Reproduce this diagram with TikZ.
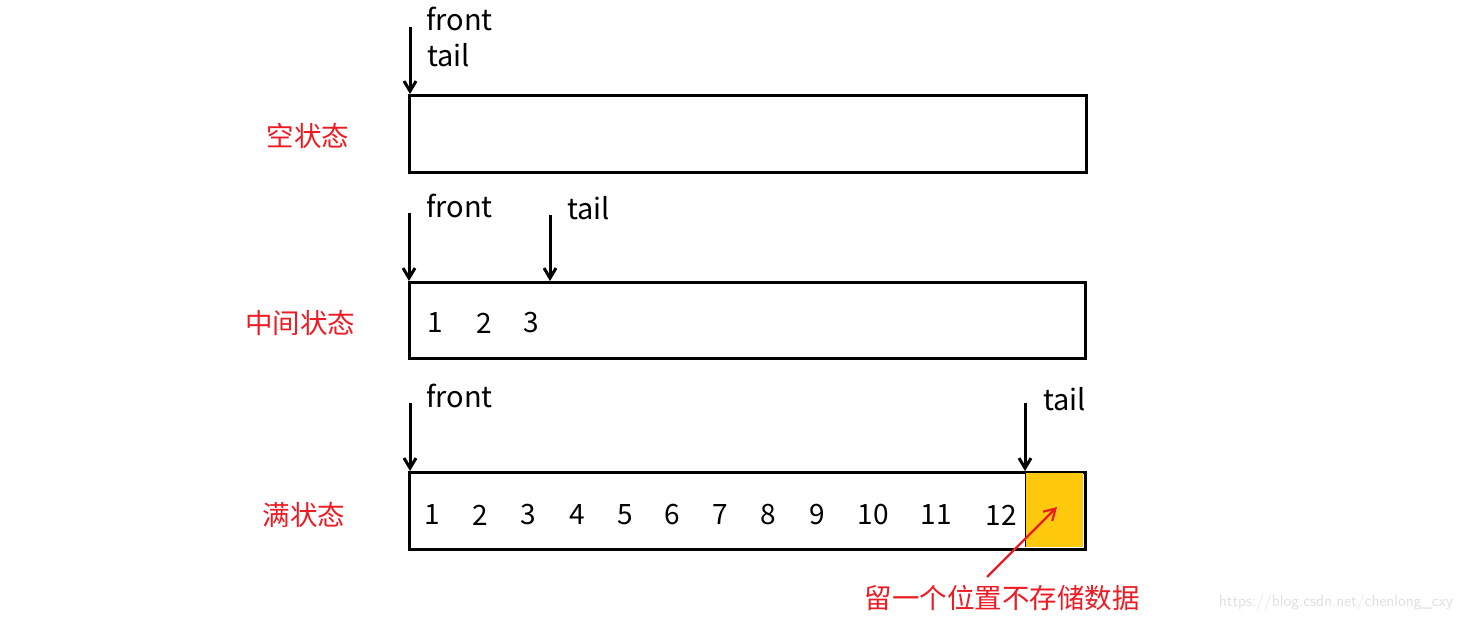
\documentclass[tikz,border=0pt]{standalone}
\usepackage{fontspec}
\setmainfont{Noto Sans CJK SC}
\usetikzlibrary{arrows.meta}
\definecolor{labelred}{RGB}{237,28,36}
\definecolor{slotyellow}{RGB}{255,201,14}
\tikzset{
	queue/.style={draw=black,line width=3pt},
	pointer/.style={-{Straight Barb[length=10pt,width=12pt]},line width=3pt},
	ptext/.style={anchor=west,inner sep=0pt,font=\fontsize{29}{32}\selectfont},
	num/.style={inner sep=0pt,font=\fontsize{28}{32}\selectfont},
	state/.style={text=labelred,inner sep=0pt,font=\fontsize{27.5}{32}\selectfont},
}
\begin{document}
\begin{tikzpicture}[x=1pt,y=-1pt,font=\fontsize{26}{30}\selectfont]
	\useasboundingbox (0,0) rectangle (1467,620);
	% empty
	\node[queue,minimum width=677pt,minimum height=77pt,anchor=north west] (Q1) at (408,94) {};
	\coordinate (F1) at (410,27);
	\draw[pointer] (F1) to (F1 |- Q1.north);
	\node[ptext] (f1) at (426,19) {front};
	\node[ptext] (t1) at (427,55) {tail};
	\node[state] (s1) at (308,136) {空状态};
	% middle
	\node[queue,minimum width=676pt,minimum height=76pt,anchor=north west] (Q2) at (408,281) {};
	\coordinate (F2) at (409,213);
	\coordinate (T2) at (550,215);
	\draw[pointer] (F2) to (F2 |- Q2.north);
	\draw[pointer] (T2) to (T2 |- Q2.north);
	\node[ptext] (f2) at (426,206) {front};
	\node[ptext] (t2) at (567,208) {tail};
	\node[state] (s2) at (300,323) {中间状态};
	\foreach \n/\x in {1/435,2/484,3/531}
		\node[num] (m\n) at (\x,323) {\n};
	% full
	\node[queue,minimum width=676pt,minimum height=77pt,anchor=north west] (Q3) at (408,471) {};
	\fill[slotyellow] (1025,472.5) rectangle (1082.5,546.5);
	\draw[line width=1pt] (1025,472.5) -- (1025,546.5);
	\coordinate (F3) at (410,403);
	\coordinate (T3) at (1025,403);
	\draw[pointer] (F3) to (F3 |- Q3.north);
	\draw[pointer] (T3) to (T3 |- Q3.north);
	\node[ptext] (f3) at (426,396) {front};
	\node[ptext] (t3) at (1043,399) {tail};
	\node[state] (s3) at (304,515) {满状态};
	\foreach \n/\x in {1/432,2/480,3/528,4/577,5/625,6/672,7/720,8/768,9/817,10/873,11/936,12/1001}
		\node[num] (k\n) at (\x,515) {\n};
	\node[state] (note) at (1002,598) {留一个位置不存储数据};
	\coordinate (slot) at (1057,507);
	\draw[-{Straight Barb[length=11pt,width=13pt]},line width=2.2pt,labelred] (987,577) to (slot);
	\node[text=black!12,font=\fontsize{16.5}{18}\selectfont\sffamily] (mark) at (1336,602) {https://blog.csdn.net/chenlong\_cxy};
\end{tikzpicture}
\end{document}
